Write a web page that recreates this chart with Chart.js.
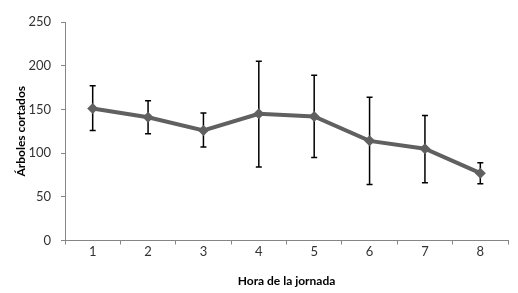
<!DOCTYPE html>
<html>
<head>
<meta charset="utf-8">
<script src="https://cdn.jsdelivr.net/npm/chart.js@4"></script>
<style>
  html, body { margin: 0; padding: 0; background: #fff; }
  #wrap { width: 518px; height: 293px; }
</style>
</head>
<body>
<div id="wrap"><canvas id="chart"></canvas></div>
<script>
const categories = ['1', '2', '3', '4', '5', '6', '7', '8'];
const meanValues = [151, 141, 126, 145, 142, 114, 105, 77];
const upperValues = [177, 160, 146, 205, 189, 164, 143, 89];
const lowerValues = [126, 122, 107, 84, 95, 64, 66, 65];
const yTicks = [0, 50, 100, 150, 200, 250];

const AXIS_COLOR = '#868686';
const LINE_COLOR = '#606060';
const FONT = 'Lato, "Open Sans", sans-serif';

// draws vertical error bars with caps, under the line
const errorBarPlugin = {
    id: 'errorBars',
    beforeDatasetsDraw: (chart) => {
        const ctx = chart.ctx;
        const x = chart.scales.x;
        const y = chart.scales.y;
        ctx.save();
        ctx.strokeStyle = '#000';
        ctx.lineWidth = 1.5;
        categories.forEach((_, i) => {
            const px = x.getPixelForValue(i);
            const top = y.getPixelForValue(upperValues[i]);
            const bottom = y.getPixelForValue(lowerValues[i]);
            ctx.beginPath();
            ctx.moveTo(px, top);
            ctx.lineTo(px, bottom);
            ctx.moveTo(px - 3, top);
            ctx.lineTo(px + 3, top);
            ctx.moveTo(px - 3, bottom);
            ctx.lineTo(px + 3, bottom);
            ctx.stroke();
        });
        ctx.restore();
    },
};

new Chart(document.getElementById('chart'), {
    type: 'line',
    data: {
        labels: categories,
        datasets: [{
            data: meanValues,
            borderColor: LINE_COLOR,
            backgroundColor: LINE_COLOR,
            borderWidth: 4,
            pointStyle: 'rectRot',
            pointRadius: 5.5,
            pointBorderWidth: 0,
            tension: 0,
        }],
    },
    options: {
        responsive: true,
        maintainAspectRatio: false,
        animation: false,
        devicePixelRatio: 1,
        layout: { padding: { left: 0, top: 22, right: 10, bottom: 0 } },
        plugins: {
            legend: { display: false },
            tooltip: { enabled: false },
        },
        scales: {
            x: {
                offset: true,
                grid: {
                    offset: true,
                    drawOnChartArea: false,
                    color: AXIS_COLOR,
                    tickLength: 4,
                },
                border: { color: AXIS_COLOR, width: 1 },
                ticks: {
                    color: '#333',
                    padding: 0,
                    font: { family: FONT, size: 13 },
                    maxRotation: 0,
                },
                title: {
                    display: true,
                    text: 'Hora de la jornada',
                    color: '#000',
                    font: { family: FONT, size: 12, weight: 'bold' },
                    padding: { top: 4, bottom: 5 },
                },
                afterFit: (scale) => { scale.height = 52.5; },
            },
            y: {
                min: 0,
                max: 250,
                afterBuildTicks: (scale) => {
                    scale.ticks = yTicks.map((v) => ({ value: v }));
                },
                grid: {
                    drawOnChartArea: false,
                    color: AXIS_COLOR,
                    tickLength: 4,
                },
                border: { color: AXIS_COLOR, width: 1 },
                ticks: {
                    color: '#333',
                    padding: 10,
                    font: { family: FONT, size: 13 },
                },
                title: {
                    display: true,
                    text: 'Árboles cortados',
                    color: '#000',
                    font: { family: FONT, size: 12, weight: 'bold' },
                    padding: { top: 14, bottom: 4 },
                },
                afterFit: (scale) => { scale.width = 65; },
            },
        },
    },
    plugins: [errorBarPlugin],
});
</script>
</body>
</html>
